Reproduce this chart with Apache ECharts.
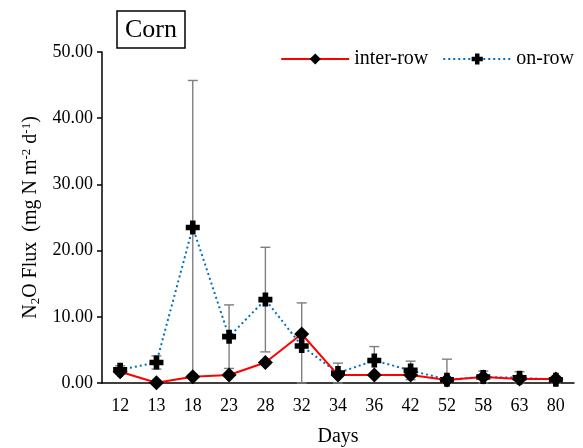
<!DOCTYPE html>
<html>
<head>
<meta charset="utf-8">
<script src="https://cdn.jsdelivr.net/npm/echarts@6/dist/echarts.min.js"></script>
<style>
  html, body { margin: 0; padding: 0; background: #fff; }
  #chart { width: 583px; height: 448px; }
</style>
</head>
<body>
<div id="chart"></div>
<script>
// data
var days = ['12', '13', '18', '23', '28', '32', '34', '36', '42', '52', '58', '63', '80'];
var interRow = [1.7, 0.05, 0.95, 1.2, 3.1, 7.4, 1.2, 1.2, 1.2, 0.45, 0.9, 0.6, 0.6];
var onRow = [2.0, 3.1, 23.5, 7.0, 12.6, 5.6, 1.5, 3.4, 1.9, 0.5, 0.9, 0.8, 0.5];
var onRowSd = [0.6, 1.0, 22.2, 4.8, 7.9, 6.5, 1.5, 2.1, 1.4, 3.1, 0.9, 0.9, 0.5];
var yTicks = [0, 10, 20, 30, 40, 50];

var serif = 'Liberation Serif';
var plusPath = 'path://M3,0 L7,0 L7,3 L10,3 L10,7 L7,7 L7,10 L3,10 L3,7 L0,7 L0,3 L3,3 Z';

var errData = onRow.map(function (v, i) {
    return [i, v + onRowSd[i], Math.max(0, v - onRowSd[i])];
});

var chart = echarts.init(document.getElementById('chart'));
var option = {
    animation: false,
    textStyle: { fontFamily: serif },
    title: {
        text: 'Corn',
        left: 117,
        top: 11,
        padding: [6, 8, 5, 8],
        borderColor: '#000',
        borderWidth: 1.5,
        textStyle: { fontFamily: serif, fontSize: 26, fontWeight: 'normal', color: '#000' }
    },
    legend: {
        right: 4,
        top: 44,
        itemWidth: 68,
        itemHeight: 14,
        itemGap: 14,
        data: ['inter-row', 'on-row'],
        textStyle: { fontFamily: serif, fontSize: 20, color: '#000' }
    },
    grid: { left: 102, right: 9, top: 52, bottom: 65, outerBoundsMode: 'none' },
    xAxis: {
        type: 'category',
        data: days,
        boundaryGap: true,
        name: 'Days',
        nameLocation: 'middle',
        nameGap: 44,
        nameTextStyle: { fontFamily: serif, fontSize: 20, color: '#000' },
        axisLine: { lineStyle: { color: '#000', width: 1.5 } },
        axisTick: { length: 5, lineStyle: { color: '#000', width: 1.5 } },
        axisLabel: { fontFamily: serif, fontSize: 18, color: '#000', margin: 14 },
        splitLine: { show: false }
    },
    yAxis: {
        type: 'value',
        min: yTicks[0],
        max: yTicks[yTicks.length - 1],
        interval: 10,
        name: '{n|N}{sub|2}{n|O Flux  (mg N m}{sup|-2}{n| d}{sup|-1}{n|)}',
        nameLocation: 'middle',
        nameRotate: 90,
        nameGap: 60,
        nameTextStyle: {
            rich: {
                n: { fontFamily: serif, fontSize: 20, color: '#000' },
                sub: { fontFamily: serif, fontSize: 13, color: '#000', verticalAlign: 'bottom', padding: [9, 0, 0, 0] },
                sup: { fontFamily: serif, fontSize: 13, color: '#000', verticalAlign: 'top', padding: [0, 0, 9, 0] }
            }
        },
        axisLine: { show: true, lineStyle: { color: '#000', width: 1.5 } },
        axisTick: { show: true, length: 5, lineStyle: { color: '#000', width: 1.5 } },
        axisLabel: {
            fontFamily: serif, fontSize: 18, color: '#000', margin: 9,
            formatter: function (v) { return v.toFixed(2); }
        },
        splitLine: { show: false }
    },
    series: [
        {
            name: 'errbars',
            type: 'custom',
            z: 1,
            silent: true,
            data: errData,
            renderItem: function (params, api) {
                var top = api.coord([api.value(0), api.value(1)]);
                var bot = api.coord([api.value(0), api.value(2)]);
                var w = 5;
                var st = { stroke: '#7f7f7f', lineWidth: 1.4 };
                return {
                    type: 'group',
                    children: [
                        { type: 'line', shape: { x1: top[0], y1: top[1], x2: bot[0], y2: bot[1] }, style: st },
                        { type: 'line', shape: { x1: top[0] - w, y1: top[1], x2: top[0] + w, y2: top[1] }, style: st },
                        { type: 'line', shape: { x1: bot[0] - w, y1: bot[1], x2: bot[0] + w, y2: bot[1] }, style: st }
                    ]
                };
            }
        },
        {
            name: 'on-row',
            type: 'line',
            z: 3,
            data: onRow,
            symbol: plusPath,
            symbolSize: 14,
            itemStyle: { color: '#000' },
            lineStyle: { color: '#0070C0', width: 2, type: [2, 3] }
        },
        {
            name: 'inter-row',
            type: 'line',
            z: 4,
            data: interRow,
            symbol: 'diamond',
            symbolSize: 15,
            itemStyle: { color: '#000' },
            lineStyle: { color: '#FF0000', width: 2 }
        }
    ]
};
chart.setOption(option);
</script>
</body>
</html>
